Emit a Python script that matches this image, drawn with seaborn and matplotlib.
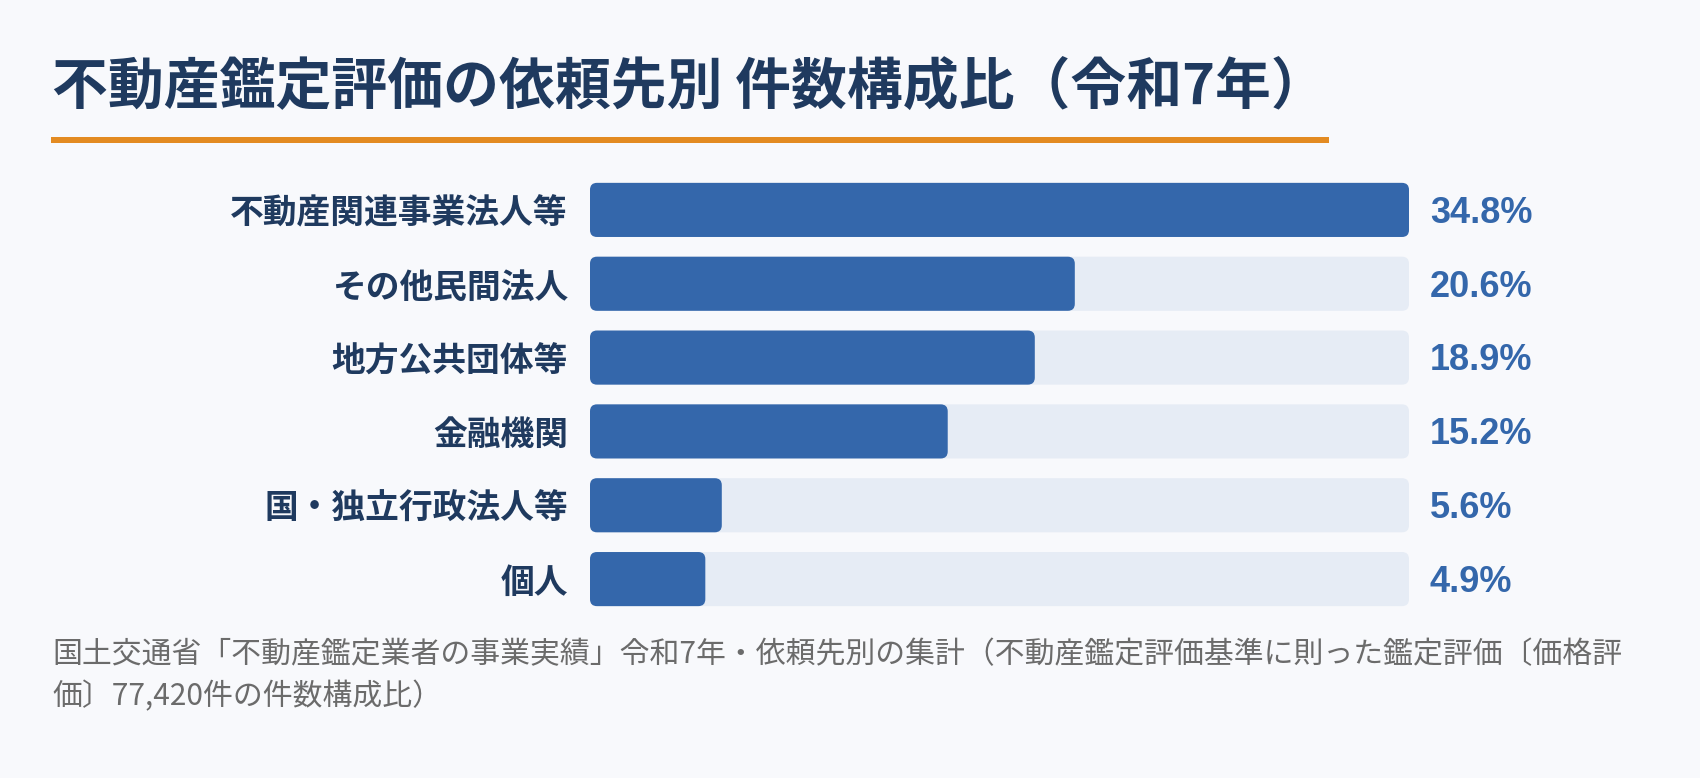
import matplotlib
matplotlib.use("Agg")
import matplotlib.pyplot as plt
from matplotlib.patches import FancyBboxPatch, Rectangle
import seaborn as sns
import pandas as pd

# データ（令和7年・依頼先別 件数構成比）
categories = ["不動産関連事業法人等", "その他民間法人", "地方公共団体等", "金融機関", "国・独立行政法人等", "個人"]
shares = [34.8, 20.6, 18.9, 15.2, 5.6, 4.9]
value_labels = [f"{v:.1f}%" for v in shares]

title = "不動産鑑定評価の依頼先別 件数構成比（令和7年）"
note_lines = [
    "国土交通省「不動産鑑定業者の事業実績」令和7年・依頼先別の集計（不動産鑑定評価基準に則った鑑定評価〔価格評",
    "価〕77,420件の件数構成比）",
]

bg = "#f8f9fc"
bar_color = "#3467ab"
track_color = "#e6ecf5"
navy = "#1f3a5f"
orange = "#e38b22"
gray = "#6b6b6b"

sns.set_theme(style="white")
plt.rcParams["font.family"] = ["Noto Sans CJK JP", "DejaVu Sans"]

W, H = 1700, 778
fig = plt.figure(figsize=(W / 100, H / 100), dpi=100, facecolor=bg)

# 軸の位置（ピクセル指定）
ax_left, ax_right = 590, 1409
ax_top, ax_bottom = 173, 616
ax = fig.add_axes([ax_left / W, 1 - ax_bottom / H, (ax_right - ax_left) / W, (ax_bottom - ax_top) / H])
ax.set_facecolor(bg)

df = pd.DataFrame({"category": categories, "share": shares})
df["track"] = df["share"].max()

bar_w = 0.733
sns.barplot(data=df, x="track", y="category", color=track_color, saturation=1, width=bar_w, ax=ax)
sns.barplot(data=df, x="share", y="category", color=bar_color, saturation=1, width=bar_w, ax=ax)

xmax = df["share"].max()
ax.set_xlim(0, xmax)
ax.set_ylim(len(categories) - 0.5, -0.5)

# 角丸バーに置き換え
x_per_px = xmax / (ax_right - ax_left)
y_per_px = len(categories) / (ax_bottom - ax_top)
radius_px = 7
for p in list(ax.patches):
    x0, y0 = p.get_x(), p.get_y()
    w, h = p.get_width(), p.get_height()
    fc = p.get_facecolor()
    p.remove()
    ax.add_patch(FancyBboxPatch(
        (x0, y0), w, h,
        boxstyle=f"round,pad=0,rounding_size={radius_px * x_per_px}",
        mutation_aspect=y_per_px / x_per_px,
        facecolor=fc, edgecolor="none", zorder=2,
    ))

sns.despine(ax=ax, left=True, bottom=True)
ax.set_xlabel("")
ax.set_ylabel("")
ax.set_xticks([])
ax.tick_params(axis="y", length=0, pad=16, labelsize=24.3, labelcolor=navy)
for lbl in ax.get_yticklabels():
    lbl.set_fontweight("bold")

# 値ラベル
for i, txt in enumerate(value_labels):
    ax.annotate(txt, xy=(1, i), xycoords=("axes fraction", "data"),
                xytext=(15, 0.5), textcoords="offset points",
                ha="left", va="center_baseline", fontsize=26, fontweight="bold",
                color=bar_color, family=["Liberation Sans", "DejaVu Sans"])

# タイトルと下線
fig.text(52 / W, 1 - 87 / H, title, ha="left", va="center",
         fontsize=40.2, fontweight="bold", color=navy)
fig.add_artist(Rectangle((51 / W, 1 - 143 / H), (1329 - 51) / W, 6 / H,
                         transform=fig.transFigure, facecolor=orange, edgecolor="none"))

# 出典
fig.text(52 / W, 1 - 655 / H, note_lines[0], ha="left", va="center", fontsize=21.5, color=gray)
fig.text(52 / W, 1 - 697 / H, note_lines[1], ha="left", va="center", fontsize=21.5, color=gray)

fig.savefig("out.png", dpi=100, facecolor=bg)
